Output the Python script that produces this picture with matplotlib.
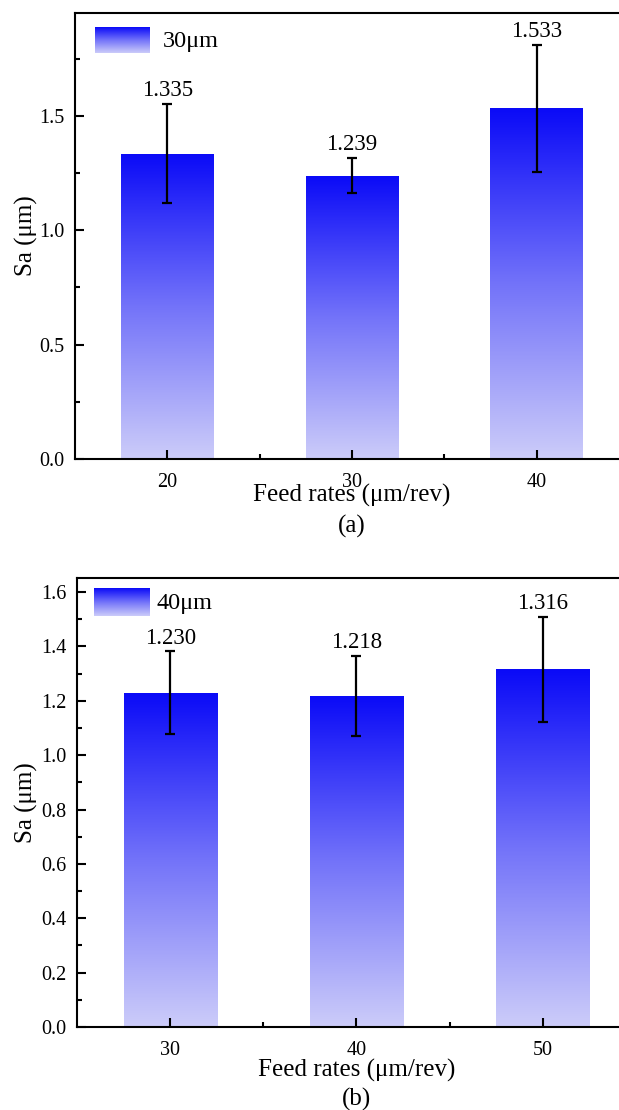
import numpy as np
import matplotlib
matplotlib.use("Agg")
import matplotlib.pyplot as plt
from matplotlib.colors import LinearSegmentedColormap
from matplotlib.ticker import MultipleLocator, FixedLocator, FormatStrFormatter

plt.rcParams['font.family'] = ['Liberation Serif', 'DejaVu Serif']

# Panel (a): 30 µm
feed_a = [20, 30, 40]
sa_a = [1.335, 1.239, 1.533]
err_a = [0.217, 0.078, 0.277]
label_a = "30μm"

# Panel (b): 40 µm
feed_b = [30, 40, 50]
sa_b = [1.230, 1.218, 1.316]
err_b = [0.152, 0.147, 0.192]
label_b = "40μm"

cmap = LinearSegmentedColormap.from_list(
    "bluegrad", [(0.80, 0.80, 0.98), (0.45, 0.45, 0.98), (0.04, 0.04, 0.97)])
grad = np.linspace(0, 1, 256).reshape(-1, 1)

W, H = 619, 1110
fig = plt.figure(figsize=(W / 100, H / 100), dpi=100)


def px_axes(left, top, right, bottom):
    return [left / W, 1 - bottom / H, (right - left) / W, (bottom - top) / H]


def panel(rect, feeds, vals, errs, label, ylim, major, minor,
          xlabel_base, leg_rect, leg_text_xy, panel_lab, panel_y):
    left, top, right, bottom = rect
    ax = fig.add_axes(px_axes(*rect))
    bars = ax.bar(feeds, vals, width=5, facecolor='none', edgecolor='none')
    for b in bars:
        x0, y0 = b.get_x(), b.get_y()
        im = ax.imshow(grad, cmap=cmap, origin='lower', aspect='auto',
                       extent=[x0, x0 + b.get_width(), y0, y0 + b.get_height()],
                       zorder=1)
        im.set_clip_path(b)
    ax.errorbar(feeds, vals, yerr=errs, fmt='none', ecolor='black',
                elinewidth=1.6, capsize=3.6, capthick=1.6, zorder=3)
    for x, v, e in zip(feeds, vals, errs):
        ax.annotate(f"{v:.3f}", (x, v + e), xytext=(0, 2),
                    textcoords='offset points', ha='center', va='bottom',
                    fontsize=16.5)
    step = feeds[1] - feeds[0]
    ax.set_xlim(feeds[0] - step / 2, feeds[-1] + step / 2)
    ax.set_ylim(*ylim)
    ax.set_xticks(feeds)
    ax.xaxis.set_minor_locator(FixedLocator([f + step / 2 for f in feeds[:-1]]))
    ax.yaxis.set_major_locator(MultipleLocator(major))
    ax.yaxis.set_minor_locator(MultipleLocator(minor))
    ax.yaxis.set_major_formatter(FormatStrFormatter('%.1f'))
    ax.tick_params(which='both', direction='in', width=1.5, labelsize=14.5,
                   top=False, right=False)
    ax.tick_params(which='major', length=6.5)
    ax.tick_params(which='minor', length=3.6)
    ax.tick_params(axis='x', pad=10)
    ax.tick_params(axis='y', pad=7.5)
    for s in ['left', 'bottom', 'top', 'right']:
        ax.spines[s].set_linewidth(1.5)
    hpx = bottom - top
    wpx = right - left
    ax.set_ylabel("Sa (μm)", fontsize=18)
    ax.yaxis.set_label_coords(-(left - 38) / wpx, 0.5)
    ax.set_xlabel("Feed rates (μm/rev)", fontsize=18)
    ax.xaxis.label.set_va('baseline')
    ax.xaxis.set_label_coords(0.5, -(xlabel_base - bottom) / hpx)
    # legend
    lax = fig.add_axes(px_axes(*leg_rect))
    lax.imshow(grad, cmap=cmap, origin='lower', aspect='auto')
    lax.axis('off')
    fig.text(leg_text_xy[0] / W, 1 - leg_text_xy[1] / H, label,
             fontsize=17.5, va='center', ha='left')
    fig.text((left + right) / 2 / W, 1 - panel_y / H, panel_lab, fontsize=18,
             ha='center', va='center')
    return ax


panel((75, 13, 629, 459), feed_a, sa_a, err_a, label_a,
      (0, 1.95), 0.5, 0.25,
      502, (95, 27, 150, 53), (163, 41), "(a)", 526)
panel((77, 578, 636, 1027), feed_b, sa_b, err_b, label_b,
      (0, 1.652), 0.2, 0.1,
      1077, (94, 588, 150, 616), (156, 603), "(b)", 1099)

fig.savefig("out.png", dpi=100)
